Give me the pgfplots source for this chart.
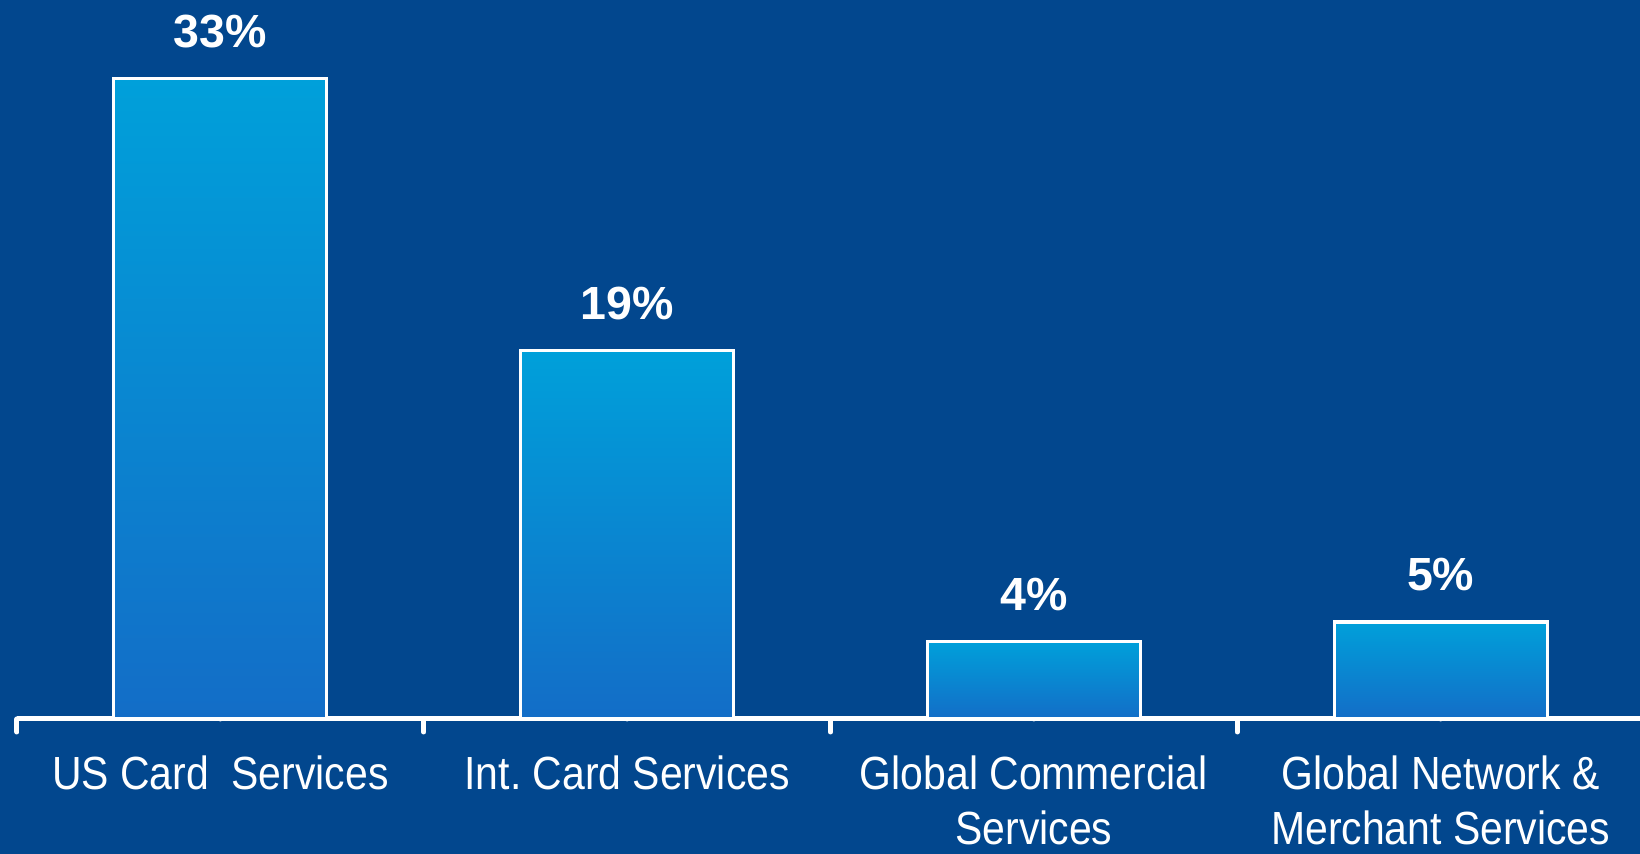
\documentclass[border=0pt]{standalone}
\usepackage{pgfplots}
\pgfplotsset{compat=1.18}
\usepackage{fontspec}
\setmainfont{Liberation Sans}
\newfontfamily\narrowfont[FakeStretch=0.88]{Liberation Sans}
\frenchspacing

\definecolor{bg}{RGB}{2,71,142}
\definecolor{bartop}{RGB}{0,160,218}
\definecolor{barmid}{RGB}{6,146,212}
\definecolor{barbot}{RGB}{19,109,199}

% two centred lines, baseline on the first line, no strut below the second
\newcommand{\twolines}[2]{\vtop{\baselineskip=27.5pt\halign{\hfil##\hfil\cr#1\cr#2\cr}}}

\pgfplotsset{
  gradbar/.style={bar shift=0pt, draw=white, line width=1.6pt,
    top color=bartop, middle color=barmid, bottom color=barbot},
}

\begin{document}
\begin{tikzpicture}
\useasboundingbox (0,0) rectangle (820pt,427pt);
\clip (0,0) rectangle (820pt,427pt);
\fill[bg] (0,0) rectangle (820pt,427pt);
\begin{axis}[
  at={(8.5pt,67.5pt)}, anchor=south west,
  scale only axis, width=813.5pt, height=339.5pt,
  xmin=-0.5, xmax=3.5, ymin=0, ymax=35,
  axis x line*=bottom, axis y line=none,
  axis line style={white, line width=2.5pt, -},
  clip=false,
  ybar, bar width=106.5pt,
  xtick={0,1,2,3},
  xticklabels={US Card\ \ Services, Int. Card Services, {\twolines{Global Commercial}{Services}}, {\twolines{Global Network \&}{Merchant Services}}},
  major tick length=0pt,
  tick style={white, line width=2.5pt, line cap=round},
  extra x ticks={-0.5,0.5,1.5,2.5,3.5},
  extra x tick labels={},
  extra x tick style={major tick length=6.5pt, tick align=outside},
  xticklabel style={font=\narrowfont\fontsize{23.25}{27.5}\selectfont, text=white, anchor=base, inner sep=0pt, yshift=-35.5pt},
  /pgf/number format/assume math mode=true,
  nodes near coords={\pgfmathprintnumber{\pgfplotspointmeta}\%},
  every node near coord/.append style={font=\bfseries\fontsize{23.25}{28}\selectfont, text=white, anchor=base, yshift=15.5pt},
]
% one plot per bar, so that each bar carries its own vertical gradient
\addplot[gradbar] coordinates {(0,33)};
\addplot[gradbar] coordinates {(1,19)};
\addplot[gradbar] coordinates {(2,4)};
\addplot[gradbar] coordinates {(3,5)};
\end{axis}
\end{tikzpicture}
\end{document}
